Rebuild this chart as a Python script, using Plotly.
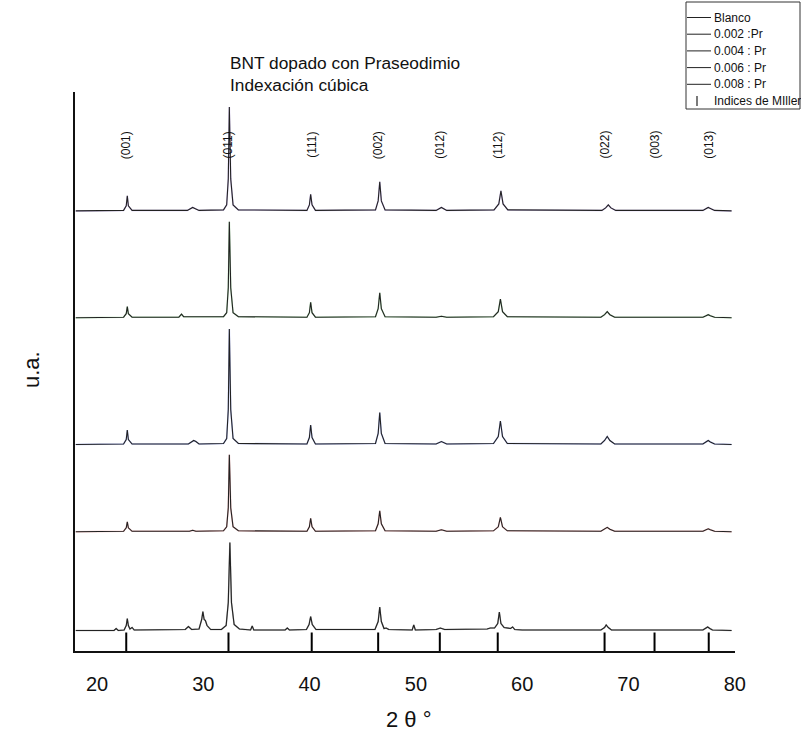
import plotly.graph_objects as go

# ---------------- data ----------------
# 2-theta (deg) / intensity above each pattern's own baseline (arbitrary units)
blanco_pts = [(18.0, 0), (21.6, 0), (21.8, 2), (22.0, 0), (22.55, 0.5), (22.75, 5), (22.85, 12),
              (22.95, 5), (23.1, 1.5), (23.3, 3), (23.5, 0.5), (28.3, 1), (28.6, 4), (28.9, 1),
              (29.6, 1.5), (29.85, 11), (29.96, 19), (30.08, 11), (30.2, 10), (30.35, 5), (30.7, 1),
              (31.7, 1), (32.15, 5), (32.35, 28), (32.5, 88), (32.65, 28), (32.9, 6), (33.4, 1.5),
              (34.45, 0.5), (34.6, 4.5), (34.75, 0.5), (37.7, 0.5), (37.9, 2.5), (38.1, 0.5),
              (39.7, 1), (39.95, 6), (40.1, 14), (40.25, 6), (40.6, 1), (46.15, 1), (46.45, 9),
              (46.6, 23.5), (46.75, 9), (47.0, 2), (47.2, 2.5), (47.45, 1), (49.65, 0.5), (49.8, 5.5),
              (49.95, 0.5), (51.9, 1), (52.3, 2.5), (52.7, 1), (56.7, 1.5), (57.0, 2.5), (57.4, 2.5),
              (57.7, 7), (57.85, 18.5), (58.0, 7), (58.3, 3), (58.9, 2), (59.1, 3.5), (59.3, 1),
              (60.0, 0.5), (67.4, 0.5), (67.75, 3), (67.9, 5.5), (68.1, 3), (68.4, 0.5), (77.0, 0.5),
              (77.3, 2), (77.45, 3.5), (77.65, 2), (77.9, 0.5), (79.7, 0)]

pr002_pts = [(18.0, 0), (22.5, 0.5), (22.75, 4), (22.85, 10), (22.95, 4), (23.3, 0.5), (28.7, 0.5),
             (29.0, 1.5), (29.3, 0.5), (31.9, 1), (32.2, 5), (32.35, 24), (32.45, 77), (32.58, 24),
             (32.8, 5), (33.3, 1), (39.75, 0.5), (39.98, 5), (40.1, 13.5), (40.23, 5), (40.55, 0.5),
             (46.2, 1), (46.45, 8), (46.6, 21), (46.75, 8), (47.1, 1), (51.9, 0.5), (52.4, 2),
             (52.9, 0.5), (57.3, 1), (57.75, 5), (57.95, 14.5), (58.15, 5), (58.6, 1), (67.4, 0.5),
             (67.75, 2.5), (68.0, 4.5), (68.25, 2.5), (68.7, 0.5), (77.0, 0.5), (77.3, 2), (77.5, 3),
             (77.7, 2), (78.1, 0.5), (79.7, 0)]

pr004_pts = [(18.0, 0), (22.5, 0.5), (22.75, 5), (22.85, 14.5), (22.95, 5), (23.3, 0.5), (28.6, 0.5),
             (28.9, 3), (29.1, 4), (29.3, 3), (29.6, 0.5), (31.9, 1), (32.2, 6), (32.35, 35),
             (32.45, 115.5), (32.58, 35), (32.8, 6), (33.3, 1), (39.75, 0.5), (39.98, 7), (40.1, 19.5),
             (40.23, 7), (40.55, 0.5), (46.2, 1), (46.45, 11), (46.6, 32), (46.75, 11), (47.1, 1),
             (51.9, 0.5), (52.4, 3), (52.9, 0.5), (57.3, 1), (57.75, 8), (57.95, 23.5), (58.15, 8),
             (58.6, 1), (67.4, 0.5), (67.75, 4), (68.0, 8), (68.25, 4), (68.7, 0.5), (77.0, 0.5),
             (77.3, 2.5), (77.5, 4), (77.7, 2.5), (78.1, 0.5), (79.7, 0)]

pr006_pts = [(18.0, 0), (22.5, 0.5), (22.75, 4), (22.85, 11), (22.95, 4), (23.3, 0.5), (27.7, 0.5),
             (27.95, 3.5), (28.15, 1), (31.9, 1), (32.2, 5), (32.35, 30), (32.45, 96), (32.58, 30),
             (32.8, 5), (33.3, 1), (39.75, 0.5), (39.98, 5), (40.1, 15.5), (40.23, 5), (40.55, 0.5),
             (46.2, 1), (46.45, 9), (46.6, 25), (46.75, 9), (47.1, 1), (51.9, 0.5), (52.4, 1.5),
             (52.9, 0.5), (57.3, 1), (57.75, 6), (57.95, 18.5), (58.15, 6), (58.6, 1), (67.4, 0.5),
             (67.75, 3), (68.0, 6), (68.25, 3), (68.7, 0.5), (77.0, 0.5), (77.3, 2), (77.5, 3),
             (77.7, 2), (78.1, 0.5), (79.7, 0)]

pr008_pts = [(18.0, 0), (22.5, 0.5), (22.75, 5), (22.85, 15), (22.95, 5), (23.3, 0.5), (28.5, 0.5),
             (28.85, 3), (29.0, 3.5), (29.2, 2.5), (29.6, 0.5), (31.9, 1), (32.2, 6), (32.35, 32),
             (32.45, 104), (32.58, 32), (32.8, 6), (33.3, 1), (39.75, 0.5), (39.98, 6), (40.1, 16.5),
             (40.23, 6), (40.55, 0.5), (46.2, 1), (46.45, 10), (46.6, 29), (46.75, 10), (47.1, 1),
             (51.9, 0.5), (52.4, 3.5), (52.9, 0.5), (57.35, 1), (57.8, 7), (58.0, 20), (58.2, 7),
             (58.65, 1), (67.5, 0.5), (67.85, 3), (68.1, 6), (68.35, 3), (68.8, 0.5), (77.0, 0.5),
             (77.3, 2.5), (77.5, 3.5), (77.7, 2.5), (78.1, 0.5), (79.7, 0)]

series_names = ["Blanco", "0.002 :Pr", "0.004 : Pr", "0.006 : Pr", "0.008 : Pr"]
series_points = [blanco_pts, pr002_pts, pr004_pts, pr006_pts, pr008_pts]
series_offsets = [20.5, 119.2, 206.5, 333.3, 440.1]

miller_pos = [22.75, 32.37, 40.2, 46.45, 52.25, 57.7, 67.75, 72.45, 77.55]
miller_labels = ["(001)", "(011)", "(111)", "(002)", "(012)", "(112)", "(022)", "(003)", "(013)"]
miller_bar_height = 18.5

x_ticks = [20, 30, 40, 50, 60, 70, 80]

# ---------------- styling / layout ----------------
W, H = 801, 738
L, R, T, B = 75, 735, 92, 651   # plot area in page pixels
FONT = "Liberation Sans, Arial, Helvetica, sans-serif"
tint = ["#000000", "#d02020", "#2244ee", "#22aa22", "#7744dd"]


def px(xp):
    return (xp - L) / (R - L)


def py(yp):
    return (B - yp) / (B - T)


fig = go.Figure()

for name, pts, off, col in zip(series_names, series_points, series_offsets, tint):
    xs = [p[0] for p in pts]
    ys = [p[1] + off for p in pts]
    fig.add_trace(go.Scatter(x=xs, y=ys, mode="lines", line=dict(color=col, width=1.5),
                             opacity=0.3, hoverinfo="skip", showlegend=False))
    fig.add_trace(go.Scatter(x=xs, y=ys, mode="lines", name=name,
                             line=dict(color="#222222", width=1.1), showlegend=False))

bx, by = [], []
for p in miller_pos:
    bx += [p, p, None]
    by += [0, miller_bar_height, None]
fig.add_trace(go.Scatter(x=bx, y=by, mode="lines", name="Indices de MIller",
                         line=dict(color="#000000", width=2), showlegend=False))

annotations = []
for p, lab in zip(miller_pos, miller_labels):
    annotations.append(dict(x=p, y=B - 145, xref="x", yref="y", text=lab, showarrow=False,
                            textangle=-90, font=dict(family=FONT, size=12, color="#111"),
                            xanchor="center", yanchor="middle"))

# title
annotations.append(dict(x=px(228), y=py(63), xref="paper", yref="paper",
                        text="BNT dopado con Praseodimio", showarrow=False, xanchor="left",
                        yanchor="middle", font=dict(family=FONT, size=17.3, color="#111")))
annotations.append(dict(x=px(228), y=py(85), xref="paper", yref="paper",
                        text="Indexación cúbica", showarrow=False, xanchor="left",
                        yanchor="middle", font=dict(family=FONT, size=17.3, color="#111")))
# axis titles
annotations.append(dict(x=px(409), y=py(719), xref="paper", yref="paper", text="2 θ °",
                        showarrow=False, xanchor="center", yanchor="middle",
                        font=dict(family=FONT, size=22, color="#111")))
annotations.append(dict(x=px(31), y=py(370), xref="paper", yref="paper", text="u.a.",
                        showarrow=False, textangle=-90, xanchor="center", yanchor="middle",
                        font=dict(family=FONT, size=22, color="#111")))

# manual legend
shapes = [dict(type="rect", xref="paper", yref="paper", x0=px(686), x1=px(800), y0=py(109),
               y1=py(2), line=dict(color="#333", width=1), fillcolor="rgba(255,255,255,0)")]
leg_y = [17.5, 34.2, 50.9, 67.6, 84.3]
for yy, name in zip(leg_y, series_names):
    shapes.append(dict(type="line", xref="paper", yref="paper", x0=px(687), x1=px(711),
                       y0=py(yy), y1=py(yy), line=dict(color="#222", width=1)))
    annotations.append(dict(x=px(712), y=py(yy), xref="paper", yref="paper", text=name,
                            showarrow=False, xanchor="left", yanchor="middle",
                            font=dict(family=FONT, size=12, color="#111")))
shapes.append(dict(type="line", xref="paper", yref="paper", x0=px(697), x1=px(697),
                   y0=py(106), y1=py(96), line=dict(color="#222", width=1.2)))
annotations.append(dict(x=px(712), y=py(101), xref="paper", yref="paper", text="Indices de MIller",
                        showarrow=False, xanchor="left", yanchor="middle",
                        font=dict(family=FONT, size=12, color="#111")))

fig.update_layout(
    width=W, height=H,
    margin=dict(l=L, r=W - R, t=T, b=H - B, pad=0),
    paper_bgcolor="white", plot_bgcolor="white",
    showlegend=False,
    annotations=annotations, shapes=shapes,
    xaxis=dict(range=[17.93, 80.02], tickmode="array", tickvals=x_ticks,
               ticktext=[str(t) for t in x_ticks], showgrid=False, zeroline=False,
               showline=True, linecolor="#111", linewidth=2, ticks="",
               tickfont=dict(family=FONT, size=20, color="#111"), ticklabelstandoff=14),
    yaxis=dict(range=[0, B - T], showgrid=False, zeroline=False, showline=True,
               linecolor="#111", linewidth=2, ticks="", showticklabels=False),
)

fig.write_html("out.html", config={"displayModeBar": False},
               post_script="document.body.style.margin='0';document.body.style.overflow='hidden';")
